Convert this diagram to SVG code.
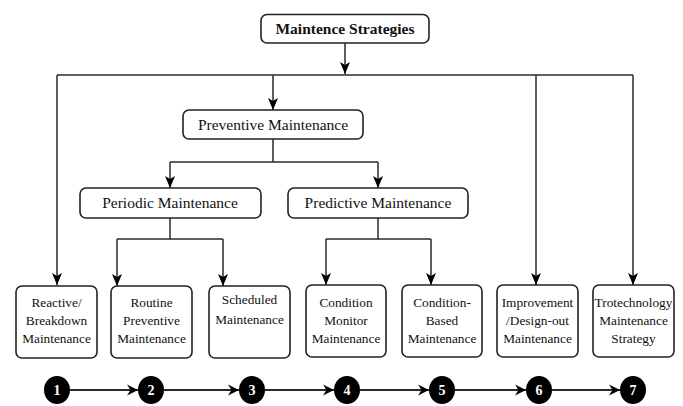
<svg xmlns="http://www.w3.org/2000/svg" width="683" height="406" viewBox="0 0 683 406">
<defs>
<style>
.box{fill:#fff;stroke:#222;stroke-width:1.6}
.t{font-family:"Liberation Serif","Times New Roman",serif;fill:#111;text-anchor:middle}
.tb{font-size:15.5px;font-weight:bold}
.tm{font-size:15.5px}
.ts{font-size:13.3px}
.c{fill:none;stroke:#2a2a2a;stroke-width:1.5}
.n{fill:#000}
.nt{font-family:"Liberation Serif","Times New Roman",serif;font-weight:bold;font-size:14px;fill:#fff;text-anchor:middle}
</style>
<marker id="ah" markerUnits="userSpaceOnUse" markerWidth="13" markerHeight="10" refX="12" refY="5" orient="auto">
<path d="M0,0 L12,5 L0,10 L3,5 z" fill="#000"/>
</marker>
<marker id="ah2" markerUnits="userSpaceOnUse" markerWidth="12" markerHeight="12" refX="11" refY="6" orient="auto">
<path d="M0,0.5 L11,6 L0,11.5 L3.5,6 z" fill="#000"/>
</marker>
</defs>
<rect width="683" height="406" fill="#fff"/>
<g id="connectors">
<path class="c" d="M345,43 V74" marker-end="url(#ah)"/>
<path class="c" d="M57,75 H633"/>
<path class="c" d="M57,75 V285" marker-end="url(#ah)"/>
<path class="c" d="M273,75 V110" marker-end="url(#ah)"/>
<path class="c" d="M536,75 V285" marker-end="url(#ah)"/>
<path class="c" d="M633,75 V285" marker-end="url(#ah)"/>
<path class="c" d="M273,139 V162"/>
<path class="c" d="M170,162 H378"/>
<path class="c" d="M170,162 V188" marker-end="url(#ah)"/>
<path class="c" d="M378,162 V188" marker-end="url(#ah)"/>
<path class="c" d="M170,218 V239"/>
<path class="c" d="M117,239 H223"/>
<path class="c" d="M117,239 V286" marker-end="url(#ah)"/>
<path class="c" d="M223,239 V286" marker-end="url(#ah)"/>
<path class="c" d="M378,218 V239"/>
<path class="c" d="M326,239 H431"/>
<path class="c" d="M326,239 V285" marker-end="url(#ah)"/>
<path class="c" d="M431,239 V285" marker-end="url(#ah)"/>
<path class="c" d="M70,390 H138" marker-end="url(#ah2)" style="stroke-width:1.8"/>
<path class="c" d="M164,390 H239" marker-end="url(#ah2)" style="stroke-width:1.8"/>
<path class="c" d="M265,390 H334" marker-end="url(#ah2)" style="stroke-width:1.8"/>
<path class="c" d="M360,390 H429" marker-end="url(#ah2)" style="stroke-width:1.8"/>
<path class="c" d="M455,390 H526" marker-end="url(#ah2)" style="stroke-width:1.8"/>
<path class="c" d="M552,390 H620" marker-end="url(#ah2)" style="stroke-width:1.8"/>
</g>
<g id="n-root"><rect class="box" x="261" y="14.5" width="168" height="28.5" rx="6"/><text class="t tb" x="345" y="33.5">Maintence Strategies</text></g>
<g id="n-preventive"><rect class="box" x="183" y="110" width="180" height="29" rx="6"/><text class="t tm" x="273" y="129.5">Preventive Maintenance</text></g>
<g id="n-periodic"><rect class="box" x="80" y="188" width="181" height="30" rx="6"/><text class="t tm" x="170" y="208">Periodic Maintenance</text></g>
<g id="n-predictive"><rect class="box" x="288" y="188" width="180" height="30" rx="6"/><text class="t tm" x="378" y="208">Predictive Maintenance</text></g>
<g id="n-reactive"><rect class="box" x="16" y="286" width="81" height="72" rx="6"/><text class="t ts" x="56.5" y="306.5">Reactive/</text><text class="t ts" x="56.5" y="324.5">Breakdown</text><text class="t ts" x="56.5" y="343">Maintenance</text></g>
<g id="n-routine"><rect class="box" x="111" y="286" width="81" height="72" rx="6"/><text class="t ts" x="151.5" y="306.5">Routine</text><text class="t ts" x="151.5" y="324.5">Preventive</text><text class="t ts" x="151.5" y="343">Maintenance</text></g>
<g id="n-scheduled"><rect class="box" x="209" y="286" width="81" height="72" rx="6"/><text class="t ts" x="249.5" y="304">Scheduled</text><text class="t ts" x="249.5" y="323.5">Maintenance</text></g>
<g id="n-condmon"><rect class="box" x="306" y="285" width="80" height="72" rx="6"/><text class="t ts" x="346" y="306.5">Condition</text><text class="t ts" x="346" y="324.5">Monitor</text><text class="t ts" x="346" y="343">Maintenance</text></g>
<g id="n-condbased"><rect class="box" x="402" y="285" width="80" height="72" rx="6"/><text class="t ts" x="442" y="306.5">Condition-</text><text class="t ts" x="442" y="324.5">Based</text><text class="t ts" x="442" y="343">Maintenance</text></g>
<g id="n-improvement"><rect class="box" x="497" y="285" width="81" height="72" rx="6"/><text class="t ts" x="537.5" y="306.5">Improvement</text><text class="t ts" x="537.5" y="324.5">/Design-out</text><text class="t ts" x="537.5" y="343">Maintenance</text></g>
<g id="n-terotech"><rect class="box" x="593" y="285" width="81" height="72" rx="6"/><text class="t ts" x="633.5" y="306.5">Trotechnology</text><text class="t ts" x="633.5" y="324.5">Maintenance</text><text class="t ts" x="633.5" y="343">Strategy</text></g>
<g id="n-1"><ellipse class="n" cx="57" cy="390" rx="13" ry="14"/><text class="nt" x="57" y="395">1</text></g>
<g id="n-2"><ellipse class="n" cx="151" cy="390" rx="13" ry="14"/><text class="nt" x="151" y="395">2</text></g>
<g id="n-3"><ellipse class="n" cx="252" cy="390" rx="13" ry="14"/><text class="nt" x="252" y="395">3</text></g>
<g id="n-4"><ellipse class="n" cx="347" cy="390" rx="13" ry="14"/><text class="nt" x="347" y="395">4</text></g>
<g id="n-5"><ellipse class="n" cx="442" cy="390" rx="13" ry="14"/><text class="nt" x="442" y="395">5</text></g>
<g id="n-6"><ellipse class="n" cx="539" cy="390" rx="13" ry="14"/><text class="nt" x="539" y="395">6</text></g>
<g id="n-7"><ellipse class="n" cx="633" cy="390" rx="13" ry="14"/><text class="nt" x="633" y="395">7</text></g>
</svg>
